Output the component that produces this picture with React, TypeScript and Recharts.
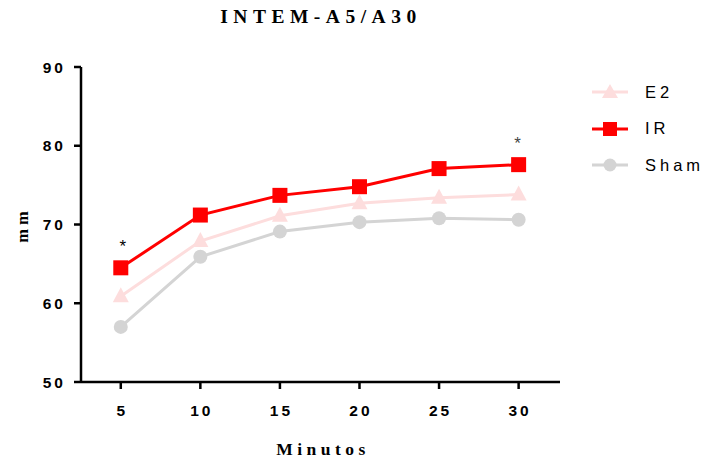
import React from "react";
import {
  LineChart,
  Line,
  XAxis,
  YAxis,
  LabelList,
} from "recharts";

// time points (minutes) and the mean values per group
const minutes = [5, 10, 15, 20, 25, 30];
const e2 = [60.9, 67.9, 71.1, 72.7, 73.4, 73.8];
const ir = [64.5, 71.2, 73.7, 74.8, 77.1, 77.6];
const sham = [57.0, 65.9, 69.1, 70.3, 70.8, 70.6];
const irMarks = ["*", "", "", "", "", "*"];

const yTicks = [50, 60, 70, 80, 90];

const RED = "#ff0000";
const PINK = "#fddddd";
const GREY = "#d4d4d4";

const data = minutes.map((m, i) => ({
  min: m,
  e2: e2[i],
  ir: ir[i],
  sham: sham[i],
  mark: irMarks[i],
}));

const Square = (props: any) => {
  const { cx, cy } = props;
  if (cx == null || cy == null) return null;
  return <rect x={cx - 7.5} y={cy - 7.5} width={15} height={15} fill={RED} />;
};

const Triangle = (props: any) => {
  const { cx, cy } = props;
  if (cx == null || cy == null) return null;
  return (
    <polygon
      points={`${cx},${cy - 9} ${cx - 8},${cy + 6} ${cx + 8},${cy + 6}`}
      fill={PINK}
    />
  );
};

const Circle = (props: any) => {
  const { cx, cy } = props;
  if (cx == null || cy == null) return null;
  return <circle cx={cx} cy={cy} r={7} fill={GREY} />;
};

const XTick = (props: any) => {
  const { x, y, payload } = props;
  return (
    <text
      x={x + 1.5}
      y={y + 25}
      textAnchor="middle"
      fontFamily="Liberation Sans, Arial, sans-serif"
      fontWeight="bold"
      fontSize={15.5}
      letterSpacing={3}
      fill="#000"
    >
      {payload.value}
    </text>
  );
};

const YTick = (props: any) => {
  const { x, y, payload } = props;
  return (
    <text
      x={x - 6}
      y={y + 5.5}
      textAnchor="end"
      fontFamily="Liberation Sans, Arial, sans-serif"
      fontWeight="bold"
      fontSize={15.5}
      letterSpacing={3}
      fill="#000"
    >
      {payload.value}
    </text>
  );
};

const StarLabel = (props: any) => {
  const { x, y, value, index } = props;
  if (!value) return null;
  return (
    <text
      x={index === 0 ? x + 2 : x - 1}
      y={y - 16}
      textAnchor="middle"
      fontFamily="Liberation Sans, Arial, sans-serif"
      fontSize={17}
      fill={index === 0 ? "#000" : "#444"}
    >
      {value}
    </text>
  );
};

const legendItems = [
  { label: "E2", color: PINK, shape: "triangle" },
  { label: "IR", color: RED, shape: "square" },
  { label: "Sham", color: GREY, shape: "circle" },
];

const LegendBox = () => (
  <div style={{ position: "absolute", left: 590, top: 74 }}>
    {legendItems.map((item) => (
      <div
        key={item.label}
        style={{ display: "flex", alignItems: "center", height: 36.5 }}
      >
        <svg width={42} height={20}>
          <line x1={2} y1={10} x2={38} y2={10} stroke={item.color} strokeWidth={3} />
          {item.shape === "square" && (
            <rect x={13} y={3} width={14} height={14} fill={item.color} />
          )}
          {item.shape === "triangle" && (
            <polygon points="20,2 12,16 28,16" fill={item.color} />
          )}
          {item.shape === "circle" && <circle cx={20} cy={10} r={6.5} fill={item.color} />}
        </svg>
        <span
          style={{
            marginLeft: 13,
            fontFamily: "Liberation Sans, Arial, sans-serif",
            fontSize: 16.5,
            letterSpacing: 4,
            color: "#000",
          }}
        >
          {item.label}
        </span>
      </div>
    ))}
  </div>
);

export default function App() {
  return (
    <div
      style={{
        position: "absolute",
        left: 0,
        top: 0,
        width: 709,
        height: 461,
        background: "#fff",
      }}
    >
      <div
        style={{
          position: "absolute",
          left: 3,
          top: 6,
          width: 636,
          textAlign: "center",
          fontFamily: "Liberation Serif, Times New Roman, serif",
          fontWeight: "bold",
          fontSize: 19.5,
          letterSpacing: 5.5,
        }}
      >
        INTEM-A5/A30
      </div>
      <LineChart
        width={709}
        height={461}
        data={data}
        margin={{ top: 67, right: 149, left: 11, bottom: 39 }}
      >
        <XAxis
          dataKey="min"
          type="number"
          domain={[2.5, 32.6]}
          ticks={minutes}
          height={40}
          axisLine={{ stroke: "#000", strokeWidth: 2.5 }}
          tickLine={{ stroke: "#000", strokeWidth: 2.5 }}
          tickSize={7}
          tick={<XTick />}
        />
        <YAxis
          type="number"
          domain={[50, 90]}
          ticks={yTicks}
          width={70}
          axisLine={{ stroke: "#000", strokeWidth: 2.5 }}
          tickLine={{ stroke: "#000", strokeWidth: 2.5 }}
          tickSize={7}
          tick={<YTick />}
        />
        <Line
          dataKey="sham"
          stroke={GREY}
          strokeWidth={3}
          dot={<Circle />}
          isAnimationActive={false}
        />
        <Line
          dataKey="e2"
          stroke={PINK}
          strokeWidth={3}
          dot={<Triangle />}
          isAnimationActive={false}
        />
        <Line
          dataKey="ir"
          stroke={RED}
          strokeWidth={3}
          dot={<Square />}
          isAnimationActive={false}
        >
          <LabelList dataKey="mark" content={<StarLabel />} />
        </Line>
        <text
          x={28}
          y={225}
          transform="rotate(-90 28 225)"
          textAnchor="middle"
          fontFamily="Liberation Serif, Times New Roman, serif"
          fontWeight="bold"
          fontSize={16.5}
          letterSpacing={4}
        >
          mm
        </text>
        <text
          x={323}
          y={455}
          textAnchor="middle"
          fontFamily="Liberation Serif, Times New Roman, serif"
          fontWeight="bold"
          fontSize={17.5}
          letterSpacing={4.5}
        >
          Minutos
        </text>
      </LineChart>
      <LegendBox />
    </div>
  );
}
